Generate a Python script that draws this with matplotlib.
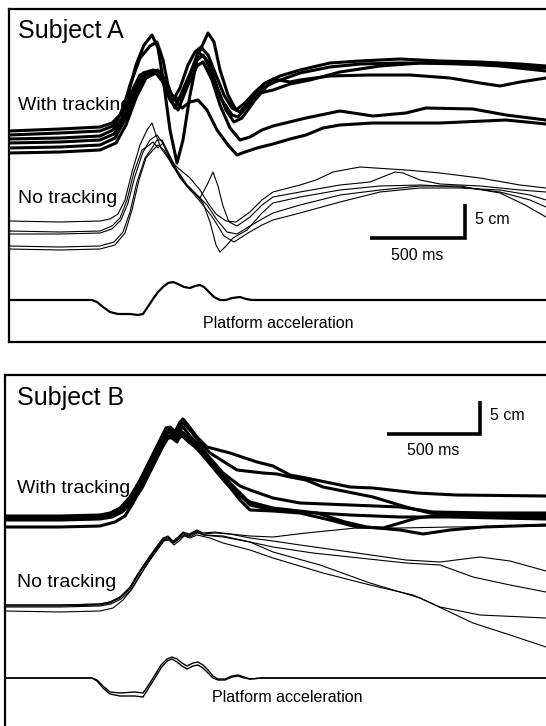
import numpy as np
import matplotlib.pyplot as plt

plt.rcParams['font.family'] = ['Liberation Sans', 'DejaVu Sans']

# Traces: (time, position) in picture units
# ---- Subject A, with tracking (thick)
A_W1 = [(9,131),(60,129),(100,127),(112,123),(120,115),(128,95),(136,65),(144,45),(152,35),(158,48),
        (164,85),(170,130),(177,163),(183,140),(190,95),(198,55),(208,33),(214,42),(220,70),(228,95),
        (236,110),(245,103),(255,92),(265,83),(280,76),(300,70),(330,63),(360,61),(400,59),(440,61),
        (480,62),(520,64),(546,66)]
A_W2 = [(9,135),(60,133),(100,131),(113,126),(122,112),(130,85),(140,58),(150,46),(157,42),(163,60),
        (168,85),(173,100),(180,88),(188,65),(195,52),(201,47),(208,55),(216,75),(224,95),(232,108),
        (240,112),(250,100),(262,88),(275,82),(300,73),(330,67),(360,64),(400,63),(450,63),(500,66),
        (546,71)]
A_W3 = [(9,139),(60,138),(100,136),(113,130),(122,118),(130,95),(140,75),(150,72),(158,70),(165,80),
        (172,95),(180,100),(190,75),(198,52),(205,58),(214,80),(222,100),(232,115),(238,117),(248,105),
        (260,93),(273,90),(290,84),(310,80),(340,72),(380,66),(420,63),(460,64),(500,65),(546,68)]
A_W4 = [(9,143),(60,142),(100,140),(114,134),(124,118),(133,95),(143,73),(153,70),(160,72),(167,90),
        (175,108),(185,85),(195,62),(203,55),(210,65),(218,90),(226,110),(234,122),(242,118),(255,100),
        (273,79),(290,82),(300,80),(330,76),(370,75),(410,75),(450,78),(480,83),(500,86),(520,82),
        (546,78)]
A_W5 = [(9,148),(60,147),(100,145),(115,138),(125,120),(135,95),(145,75),(155,72),(162,80),(170,100),
        (178,110),(188,85),(197,66),(203,62),(212,80),(220,105),(230,128),(240,140),(250,137),(262,130),
        (273,126),(306,118),(340,111),(373,116),(406,113),(426,108),(473,109),(506,115),(546,120)]
A_W6 = [(9,153),(60,152),(100,150),(116,143),(126,125),(136,98),(146,78),(156,73),(165,85),(175,100),
        (182,108),(190,102),(198,100),(207,110),(217,130),(228,145),(237,155),(245,152),(257,148),
        (273,144),(290,139),(306,135),(323,128),(340,125),(373,123),(440,123),(506,120),(546,124)]

# ---- Subject A, no tracking (thin)
A_N1 = [(9,221),(60,222),(100,221),(110,219),(118,214),(125,200),(132,172),(140,145),(147,130),(152,123),
        (156,135),(161,148),(168,158),(178,168),(190,178),(200,190),(208,203),(216,214),(226,221),
        (236,222),(250,212),(262,200),(273,192),(300,185),(316,180),(333,172),(360,167),(406,170),
        (440,173),(480,178),(520,185),(546,188)]
A_N2 = [(9,231),(60,232),(100,231),(112,226),(120,218),(127,200),(134,172),(142,150),(148,146),(153,142),
        (158,148),(163,143),(170,160),(180,178),(190,190),(200,198),(207,185),(213,172),(218,186),
        (223,206),(229,222),(237,226),(250,217),(262,205),(273,197),(300,192),(340,185),(370,182),
        (395,172),(403,173),(420,180),(440,184),(480,186),(520,190),(546,192)]
A_N3 = [(9,234),(60,234),(100,233),(112,229),(121,220),(128,203),(135,176),(143,152),(150,140),(157,135),
        (162,142),(167,152),(175,168),(185,183),(195,193),(203,203),(210,222),(216,245),(220,252),
        (226,246),(233,238),(247,230),(262,213),(273,203),(300,197),(340,190),(380,186),(420,185),
        (460,187),(500,192),(530,200),(546,207)]
A_N4 = [(9,246),(60,247),(100,246),(114,242),(123,232),(130,212),(137,182),(145,158),(152,148),(157,140),
        (162,140),(168,152),(177,170),(187,185),(197,195),(207,205),(217,220),(227,232),(237,234),
        (250,226),(262,219),(273,213),(300,205),(340,195),(380,190),(420,186),(460,186),(500,193),
        (525,205),(546,217)]
A_N5 = [(9,249),(60,250),(100,249),(115,245),(125,233),(132,210),(139,180),(146,158),(153,150),(158,145),
        (164,150),(172,165),(182,180),(193,193),(203,205),(213,218),(224,236),(234,242),(248,233),
        (262,225),(273,220),(300,213),(340,202),(380,192),(420,188),(460,188),(500,190),(530,195),
        (546,200)]

# ---- Subject A, platform acceleration
A_ACC = [(9,300),(92,300),(97,302),(103,307),(110,312),(118,314),(130,314),(138,315),(143,314),(147,308),
         (153,299),(158,292),(163,287),(168,283),(173,282),(178,284),(184,287),(190,288),(195,286),
         (200,285),(204,287),(208,291),(214,297),(220,300),(226,300),(232,298),(240,297),(246,299),
         (252,300),(546,300)]

# ---- Subject B, with tracking (thick)
B_W1 = [(5,516),(60,516),(100,515),(110,513),(120,508),(130,497),(140,480),(150,460),(160,440),(166,428),
        (170,427),(175,432),(180,422),(183,419),(188,425),(197,437),(207,447),(230,453),(257,462),
        (273,466),(290,475),(306,478),(350,487),(373,488),(417,493),(456,495),(546,496)]
B_W2 = [(5,517),(60,517),(100,516),(110,514),(120,509),(130,499),(140,482),(150,462),(160,442),(166,431),
        (170,430),(175,435),(180,426),(183,423),(190,430),(200,443),(210,453),(237,470),(263,473),
        (277,474),(290,477),(306,480),(323,487),(373,497),(406,507),(430,513),(473,516),(546,517)]
B_W3 = [(5,518),(60,518),(100,517),(111,515),(121,510),(131,500),(141,484),(151,464),(161,444),(167,433),
        (171,433),(176,438),(180,430),(183,427),(190,436),(203,450),(223,473),(240,486),(250,490),
        (273,498),(300,503),(350,505),(400,507),(433,512),(490,513),(546,513)]
B_W4 = [(5,519),(60,519),(100,518),(111,516),(121,511),(131,502),(141,486),(151,466),(161,446),(167,436),
        (171,436),(176,440),(181,431),(190,440),(210,460),(230,483),(247,500),(250,502),(273,508),
        (317,513),(345,522),(367,527),(400,530),(423,534),(450,530),(483,527),(546,525)]
B_W5 = [(5,520),(60,520),(100,519),(112,517),(122,512),(132,503),(142,488),(152,468),(162,448),(168,438),
        (172,438),(177,442),(180,434),(190,443),(203,453),(220,475),(240,500),(250,510),(273,511),
        (300,513),(330,520),(357,527),(383,528),(417,518),(450,514),(546,515)]
B_W6 = [(5,527),(60,527),(100,526),(115,522),(125,516),(133,503),(143,484),(153,464),(162,445),(168,437),
        (172,437),(177,441),(181,436),(184,433),(192,443),(205,458),(225,482),(245,500),(250,505),
        (273,510),(300,512),(350,515),(400,517),(450,517),(546,519)]

# ---- Subject B, no tracking (thin)
B_N0 = [(5,605),(60,605),(100,604),(110,602),(120,597),(130,588),(137,576),(147,561),(157,547),(163,539),
        (168,537),(173,542),(178,538),(183,533),(189,535),(197,531),(203,534),(215,533),(230,534),
        (250,536),(273,537),(306,533),(356,528),(400,528),(450,527),(546,526)]
B_N1 = [(5,605),(60,605),(100,604),(110,602),(120,597),(130,587),(137,575),(147,560),(157,546),(163,538),
        (168,536),(173,541),(178,537),(183,532),(189,534),(197,530),(203,533),(215,532),(230,534),
        (250,538),(273,541),(300,545),(350,552),(406,560),(440,562),(480,557),(510,561),(546,571)]
B_N2 = [(5,606),(60,606),(100,605),(110,603),(120,598),(130,589),(137,577),(147,562),(157,548),(163,540),
        (168,538),(173,543),(178,539),(183,534),(189,536),(197,532),(203,535),(223,537),(250,542),
        (273,547),(313,553),(350,557),(406,563),(440,565),(473,577),(510,585),(546,592)]
B_N3 = [(5,607),(60,607),(100,606),(111,604),(121,599),(131,590),(138,578),(148,563),(158,549),(164,541),
        (169,540),(174,545),(179,541),(184,536),(190,538),(197,535),(210,538),(223,543),(250,550),
        (273,558),(323,573),(370,585),(413,595),(440,607),(480,615),(546,618)]
B_N4 = [(5,611),(60,612),(100,611),(113,608),(123,600),(132,589),(140,576),(149,561),(158,548),(164,540),
        (169,539),(174,543),(179,539),(184,535),(190,537),(197,533),(205,535),(223,536),(250,542),
        (273,552),(320,565),(370,583),(420,598),(473,623),(510,635),(546,647)]

# ---- Subject B, platform acceleration (two overlapping traces)
B_ACC1 = [(5,678),(92,678),(97,680),(103,686),(110,692),(120,693),(135,692),(143,693),(148,686),(155,675),
          (161,665),(167,659),(172,657),(177,659),(182,663),(187,666),(193,663),(198,662),(203,665),
          (208,670),(213,676),(218,679),(225,679),(232,676),(238,675),(244,677),(250,679),(262,678),
          (546,678)]
B_ACC2 = [(5,678),(92,678),(97,681),(103,688),(110,694),(120,696),(135,696),(143,697),(148,689),(155,678),
          (161,668),(167,661),(172,659),(177,662),(182,666),(187,669),(193,666),(198,665),(203,668),
          (208,673),(213,678),(218,680),(225,680),(232,677),(238,676),(244,678),(250,679),(262,678),
          (546,678)]

A_THICK = [A_W1, A_W2, A_W3, A_W4, A_W5, A_W6]
A_THIN = [A_N1, A_N2, A_N3, A_N4, A_N5]
B_THICK = [B_W1, B_W2, B_W3, B_W4, B_W5, B_W6]
B_THIN = [B_N0, B_N1, B_N2, B_N3, B_N4]


def draw(ax, trace, lw):
    xy = np.array(trace, dtype=float)
    ax.plot(xy[:, 0], xy[:, 1], color='black', lw=lw,
            solid_joinstyle='round', solid_capstyle='round')


def scale_bar(ax, x0, x1, y_base, y_top, lab_x, lab_y):
    ax.plot([x0, x1, x1], [y_base, y_base, y_top], color='black', lw=2.6,
            solid_joinstyle='miter', solid_capstyle='butt')
    ax.text(x1 + 10, (y_base + y_top) / 2 - 2, '5 cm', fontsize=11.5, va='center', ha='left')
    ax.text(lab_x, lab_y, '500 ms', fontsize=11.5, va='center', ha='center')


W, H = 546, 726
fig = plt.figure(figsize=(W / 100, H / 100), dpi=100)

# panel A
axA = fig.add_axes([9 / W, 1 - 342 / H, (W - 9) / W, (342 - 9) / H])
axA.set_xlim(9, W)
axA.set_ylim(342, 9)
# panel B
axB = fig.add_axes([5 / W, 0, (W - 5) / W, (H - 375) / H])
axB.set_xlim(5, W)
axB.set_ylim(H, 375)

for ax in (axA, axB):
    ax.set_xticks([])
    ax.set_yticks([])
    ax.spines['right'].set_visible(False)
    for s in ax.spines.values():
        s.set_linewidth(1.6)
axB.spines['bottom'].set_visible(False)

for tr in A_THIN:
    draw(axA, tr, 0.8)
for tr in A_THICK:
    draw(axA, tr, 2.2)
draw(axA, A_ACC, 1.6)

for tr in B_THIN:
    draw(axB, tr, 0.8)
for tr in B_THICK:
    draw(axB, tr, 2.2)
draw(axB, B_ACC1, 1.0)
draw(axB, B_ACC2, 1.0)

# labels
axA.text(18, 38, 'Subject A', fontsize=18, va='baseline')
axA.text(18, 110, 'With tracking', fontsize=14, va='baseline')
axA.text(18, 203, 'No tracking', fontsize=14, va='baseline')
axA.text(203, 328, 'Platform acceleration', fontsize=11.5, va='baseline')
scale_bar(axA, 370, 465, 238, 204, 417, 255)

axB.text(17, 405, 'Subject B', fontsize=18, va='baseline')
axB.text(17, 493, 'With tracking', fontsize=14, va='baseline')
axB.text(17, 587, 'No tracking', fontsize=14, va='baseline')
axB.text(212, 702, 'Platform acceleration', fontsize=11.5, va='baseline')
scale_bar(axB, 387, 480, 434, 401, 433, 451)

fig.savefig('out.png', dpi=100)
